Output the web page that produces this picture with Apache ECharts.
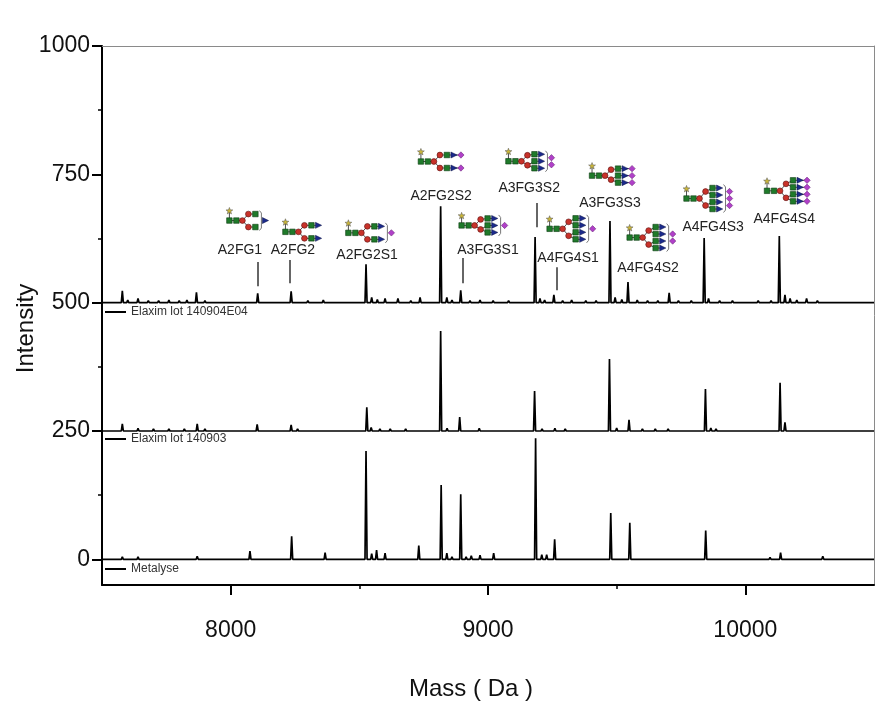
<!DOCTYPE html>
<html>
<head>
<meta charset="utf-8">
<script src="https://cdn.jsdelivr.net/npm/echarts@6/dist/echarts.min.js"></script>
<style>html,body{margin:0;padding:0;background:#fff}#c{width:892px;height:713px}</style>
</head>
<body>
<div id="c"></div>
<script>
// ---------- data ----------
const seriesNames = ['Elaxim lot 140904E04', 'Elaxim lot 140903', 'Metalyse'];
const panelOffsets = [500, 250, 0];

const topMasses = [7579,7600,7640,7680,7720,7760,7800,7830,7867,7900,7960,8020,8105,8150,8235,8300,8360,8420,8470,8526,8548,8570,8600,8650,8700,8736,8816,8840,8860,8894,8930,8969,9020,9080,9130,9183,9202,9220,9256,9290,9325,9380,9420,9474,9494,9520,9544,9580,9620,9660,9704,9740,9790,9840,9857,9900,9950,10000,10050,10100,10132,10154,10174,10200,10238,10280,10330,10380,10430,10480];
const topHeights = [23,5,8,4,4,5,4,5,20,4,3,3,18,3,22,4,5,3,3,75,10,6,8,8,4,10,188,10,5,24,4,5,4,4,3,128,8,5,15,4,5,4,4,159,10,6,40,5,4,4,19,4,4,126,8,4,4,3,4,4,130,15,8,5,8,4,3,3,3,3];

const midMasses = [7579,7640,7700,7760,7820,7870,7900,7960,8030,8103,8150,8235,8260,8330,8420,8529,8546,8580,8620,8680,8816,8841,8890,8966,9020,9060,9181,9210,9260,9300,9380,9472,9500,9548,9600,9650,9700,9760,9845,9866,9886,9940,10000,10090,10135,10154,10220,10250,10300,10380,10450];
const midHeights = [14,5,4,4,4,14,4,3,3,13,3,12,4,3,3,46,7,4,4,4,195,5,27,5,3,3,78,4,5,4,3,140,6,22,4,4,4,3,82,6,4,3,3,3,94,17,3,3,3,3,3];

const botMasses = [7579,7640,7870,8075,8114,8237,8276,8367,8437,8526,8548,8567,8600,8640,8731,8760,8818,8840,8860,8894,8915,8935,8969,9022,9060,9185,9209,9228,9259,9290,9330,9420,9477,9500,9551,9570,9846,9894,10096,10137,10160,10238,10301,10329,10461];
const botHeights = [5,5,6,16,3,45,3,13,2,211,11,18,12,3,27,3,145,12,5,127,5,7,8,12,3,236,9,9,39,3,3,2,90,3,71,3,56,3,4,13,3,2,6,3,3];

const xTickLabels = [8000, 9000, 10000];
const xMinorTicks = [8500, 9500];
const yTickLabels = [0, 250, 500, 750, 1000];
const yMinorTicks = [125, 375, 625, 875];

// glycan annotations (top trace)
const glycanNames = ['A2FG1','A2FG2','A2FG2S1','A2FG2S2','A3FG3S1','A3FG3S2','A4FG4S1','A3FG3S3','A4FG4S2','A4FG4S3','A4FG4S4'];
const labelMass = [8036, 8242, 8530, 8818, 9000, 9160, 9311, 9474, 9622, 9875, 10151];
const labelY    = [602, 602, 593, 708, 602, 723, 587, 694, 567, 647, 663];
const iconMass  = [8065, 8277, 8541, 8817, 8981, 9163, 9323, 9482, 9634, 9855, 10162];
const iconY     = [663, 641, 639, 778, 653, 778, 643, 750, 626, 702, 717];
const leaderMass   = [8106, 8231, 8903, 9189, 9268];
const leaderTop    = [579, 583, 587, 694, 569];
const leaderBottom = [532, 538, 538, 647, 524];

// ---------- build ----------
function buildTrace(masses, heights, offset) {
  const pts = [[7500, offset]];
  masses.forEach((m, i) => {
    pts.push([m - 4, offset], [m, offset + heights[i]], [m + 4, offset]);
  });
  pts.push([10500, offset]);
  return pts;
}
const traces = [
  buildTrace(topMasses, topHeights, panelOffsets[0]),
  buildTrace(midMasses, midHeights, panelOffsets[1]),
  buildTrace(botMasses, botHeights, panelOffsets[2])
];

const C = { sq: '#1f7a2a', man: '#c8322a', tri: '#1b2a8c', dia: '#b040c8', fuc: '#c9b53a', ln: '#222', br: '#777' };

function starPoints(cx, cy, ro, ri) {
  const p = [];
  for (let k = 0; k < 10; k++) {
    const a = -Math.PI / 2 + k * Math.PI / 5;
    const r = k % 2 ? ri : ro;
    p.push([cx + r * Math.cos(a), cy + r * Math.sin(a)]);
  }
  return p;
}

function glycanShapes(name) {
  const mt = name.match(/A(\d)FG(\d)(?:S(\d))?/);
  const n = +mt[1], g = +mt[2], s = mt[3] ? +mt[3] : 0;
  const rows = n === 2 ? [-6.5, 6.5] : n === 3 ? [-7, 0, 7] : [-10.5, -3.5, 3.5, 10.5];
  const manY = n === 2 ? [-6.5, 6.5] : n === 3 ? [-6, 4] : [-7, 7];
  const rowMan = n === 2 ? [0, 1] : n === 3 ? [0, 1, 1] : [0, 0, 1, 1];
  const lines = [], shapes = [];
  const L = (x1, y1, x2, y2) => lines.push({ type: 'line', shape: { x1, y1, x2, y2 }, style: { stroke: C.ln, lineWidth: 0.8 } });
  const sq = (x, y) => shapes.push({ type: 'rect', shape: { x: x - 2.75, y: y - 2.75, width: 5.5, height: 5.5 }, style: { fill: C.sq, stroke: '#0b3a10', lineWidth: 0.6 } });
  const ci = (x, y) => shapes.push({ type: 'circle', shape: { cx: x, cy: y, r: 2.9 }, style: { fill: C.man, stroke: '#5a1010', lineWidth: 0.6 } });
  const tr = (x, y) => shapes.push({ type: 'polygon', shape: { points: [[x - 3, y - 3], [x + 3.2, y], [x - 3, y + 3]] }, style: { fill: C.tri, stroke: '#0a1040', lineWidth: 0.5 } });
  const di = (x, y) => shapes.push({ type: 'polygon', shape: { points: [[x, y - 3.2], [x + 3.2, y], [x, y + 3.2], [x - 3.2, y]] }, style: { fill: C.dia, stroke: '#5a1a6a', lineWidth: 0.5 } });
  const br = (x, y1, y2) => lines.push({ type: 'polyline', shape: { points: [[x, y1], [x + 2, y1 + 2.5], [x + 2, y2 - 2.5], [x, y2]] }, style: { stroke: C.br, lineWidth: 1, fill: null } });
  const stack = (cnt) => { const a = []; for (let k = 0; k < cnt; k++) a.push((k - (cnt - 1) / 2) * 7); return a; };

  L(3, 0, 16, 0); L(3, -9, 3, 0);
  manY.forEach(y => L(16, 0, 22, y));
  let maxX = 0;
  const top = rows[0] - 3.5, bot = rows[rows.length - 1] + 3.5;
  rows.forEach((y, r) => {
    L(22, manY[rowMan[r]], 29, y);
    let endX = 29;
    if (g === n) endX = 36;
    if (g === n && s === n) endX = 43;
    L(29, y, endX, y);
  });
  shapes.push({ type: 'polygon', shape: { points: starPoints(3, -9.5, 3.6, 1.5) }, style: { fill: C.fuc, stroke: '#555', lineWidth: 0.5 } });
  sq(3, 0); sq(10, 0); ci(16, 0);
  manY.forEach(y => ci(22, y));
  rows.forEach(y => sq(29, y));
  maxX = 32;
  if (g < n) {
    br(33, top, bot);
    stack(g).forEach(y => tr(39, y));
    maxX = 42;
  } else {
    rows.forEach(y => tr(36, y));
    maxX = 39;
    if (s === n) {
      rows.forEach(y => di(43, y));
      maxX = 46;
    } else if (s > 0) {
      br(40, top, bot);
      stack(s).forEach(y => di(46, y));
      maxX = 49;
    }
  }
  const minY = -13.1, maxY = bot;
  return { children: lines.concat(shapes), dx: -maxX / 2, dy: -(minY + maxY) / 2 };
}

const iconData = glycanNames.map((nm, i) => [iconMass[i], iconY[i], i]);
const labelData = glycanNames.map((nm, i) => [labelMass[i], labelY[i], i]);

const FONT = 'Liberation Sans, Arial, sans-serif';
const chart = echarts.init(document.getElementById('c'));

const lineSeries = seriesNames.map((nm, i) => ({
  name: nm,
  type: 'line',
  xAxisIndex: 0, yAxisIndex: 0,
  data: traces[i],
  symbol: 'none',
  lineStyle: { color: '#000', width: 1.7 },
  itemStyle: { color: '#000' },
  z: 3
}));
lineSeries[0].markLine = {
  silent: true, symbol: ['none', 'none'], animation: false,
  label: { show: false },
  lineStyle: { color: '#333', width: 1.5, type: 'solid' },
  data: leaderMass.map((m, i) => [{ coord: [m, leaderTop[i]] }, { coord: [m, leaderBottom[i]] }])
};

const legendCenters = [312, 439, 569];
const plain = v => String(v);

chart.setOption({
  animation: false,
  textStyle: { fontFamily: FONT },
  grid: { left: 102, right: 18, top: 46, bottom: 128, containLabel: false, outerBoundsMode: 'none' },
  legend: seriesNames.map((nm, i) => ({
    data: [nm], left: 105, top: legendCenters[i] - 7, padding: 0,
    icon: 'rect', itemWidth: 21, itemHeight: 2, selectedMode: false,
    itemStyle: { color: '#000' },
    textStyle: { fontSize: 12, color: '#333', fontFamily: FONT, lineHeight: 14 }
  })),
  xAxis: [
    {
      type: 'value', min: 7500, max: 10500, position: 'bottom',
      axisLine: { show: true, onZero: false, lineStyle: { color: '#000', width: 2 } },
      axisTick: { show: true, customValues: xTickLabels, length: 10, lineStyle: { color: '#000', width: 2 } },
      axisLabel: { customValues: xTickLabels, formatter: plain, fontSize: 23, color: '#111', margin: 34, fontFamily: FONT },
      splitLine: { show: false },
      name: 'Mass ( Da )', nameLocation: 'middle', nameGap: 92, nameMoveOverlap: false,
      nameTextStyle: { fontSize: 24, color: '#111', fontFamily: FONT, padding: [0, 34, 0, 0] }
    },
    {
      type: 'value', min: 7500, max: 10500, position: 'bottom',
      axisLine: { show: false, onZero: false },
      axisTick: { show: true, customValues: xMinorTicks, length: 4, lineStyle: { color: '#000', width: 1.5 } },
      axisLabel: { show: false }, splitLine: { show: false }
    },
    {
      type: 'value', min: 7500, max: 10500, position: 'top',
      axisLine: { show: true, onZero: false, lineStyle: { color: '#8a8a8a', width: 1 } },
      axisTick: { show: false }, axisLabel: { show: false }, splitLine: { show: false }
    }
  ],
  yAxis: [
    {
      type: 'value', min: -50, max: 1000, position: 'left',
      axisLine: { show: true, onZero: false, lineStyle: { color: '#000', width: 2 } },
      axisTick: { show: true, customValues: yTickLabels, length: 10, lineStyle: { color: '#000', width: 2 } },
      axisLabel: { customValues: yTickLabels, formatter: plain, fontSize: 23, color: '#111', margin: 12, fontFamily: FONT },
      splitLine: { show: false },
      name: 'Intensity', nameLocation: 'middle', nameGap: 64, nameMoveOverlap: false,
      nameTextStyle: { fontSize: 24, color: '#111', fontFamily: FONT, padding: [0, 26, 0, 0] }
    },
    {
      type: 'value', min: -50, max: 1000, position: 'left',
      axisLine: { show: false, onZero: false },
      axisTick: { show: true, customValues: yMinorTicks, length: 4, lineStyle: { color: '#000', width: 1.5 } },
      axisLabel: { show: false }, splitLine: { show: false }
    },
    {
      type: 'value', min: -50, max: 1000, position: 'right',
      axisLine: { show: true, onZero: false, lineStyle: { color: '#8a8a8a', width: 1 } },
      axisTick: { show: false }, axisLabel: { show: false }, splitLine: { show: false }
    }
  ],
  series: lineSeries.concat([
    {
      type: 'custom', name: 'labels', xAxisIndex: 0, yAxisIndex: 0, silent: true, clip: false, z: 5,
      data: labelData,
      renderItem: (params, api) => {
        const p = api.coord([api.value(0), api.value(1)]);
        return {
          type: 'text', x: p[0], y: p[1],
          style: { text: glycanNames[api.value(2)], align: 'center', verticalAlign: 'middle', fontSize: 14, fill: '#222', fontFamily: FONT }
        };
      }
    },
    {
      type: 'custom', name: 'glycans', xAxisIndex: 0, yAxisIndex: 0, silent: true, clip: false, z: 5,
      data: iconData,
      renderItem: (params, api) => {
        const p = api.coord([api.value(0), api.value(1)]);
        const g = glycanShapes(glycanNames[api.value(2)]);
        return { type: 'group', x: p[0] + g.dx, y: p[1] + g.dy, children: g.children };
      }
    }
  ])
});
</script>
</body>
</html>
